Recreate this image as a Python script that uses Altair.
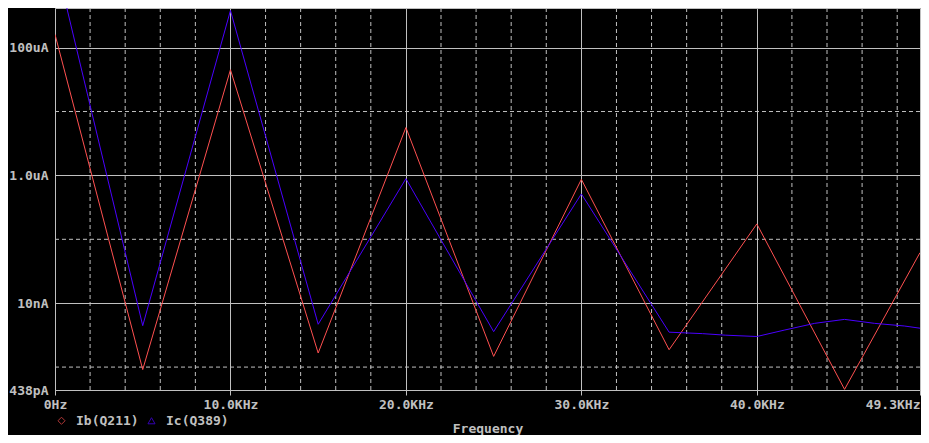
import altair as alt
import pandas as pd

# ---- data ----
ib_freq = [0, 5000, 10000, 15000, 20000, 25000, 30000, 35000, 40000, 45000, 49300]
ib_values = [1.61e-4, 9.14e-10, 4.51e-5, 1.66e-9, 5.61e-6, 1.47e-9, 8.67e-7,
             1.87e-9, 1.74e-7, 4.48e-10, 6.18e-8]

ic_freq = [0, 5000, 10000, 15000, 20000, 25000, 30000, 35000, 36900, 38200,
           40000, 41600, 43300, 45000, 46700, 48400, 49300]
ic_values = [2.48e-3, 4.45e-9, 3.81e-4, 4.68e-9, 8.89e-7, 3.59e-9, 5.13e-7,
             3.52e-9, 3.34e-9, 3.16e-9, 3.01e-9, 3.81e-9, 4.84e-9, 5.58e-9,
             4.84e-9, 4.40e-9, 4.06e-9]

series_names = ["Ib(Q211)", "Ic(Q389)"]
series_colors = ["#ff5050", "#4a00ff"]
series_shapes = ["diamond", "triangle-up"]

x_tick_values = [0, 10000, 20000, 30000, 40000, 49300]
x_tick_labels = ["0Hz", "10.0KHz", "20.0KHz", "30.0KHz", "40.0KHz", "49.3KHz"]
x_minor = [2000, 4000, 6000, 8000, 12000, 14000, 16000, 18000, 22000, 24000,
           26000, 28000, 32000, 34000, 36000, 38000, 42000, 44000, 46000, 48000]

y_tick_values = [1e-4, 1e-6, 1e-8, 4.38e-10]
y_tick_labels = ["100uA", "1.0uA", "10nA", "438pA"]
y_minor = [1e-5, 1e-7, 1e-9]

x_domain = [0, 49300]
y_domain = [4.38e-10, 4.17e-4]

# ---- styling ----
GRID = "#c0c0c0"
TEXT = "#c0c0c0"
FONT = "DejaVu Sans Mono"

df = pd.DataFrame(
    {"freq": ib_freq, "val": ib_values, "series": series_names[0]}
)
df = pd.concat([df, pd.DataFrame(
    {"freq": ic_freq, "val": ic_values, "series": series_names[1]}
)], ignore_index=True)

df_xminor = pd.DataFrame({"f": x_minor})
df_yminor = pd.DataFrame({"v": y_minor})
# legend-only rows (lie outside the plotted domain, clipped away)
df_legend = pd.DataFrame({"freq": [-1000, -1000], "val": [1e-12, 1e-12],
                          "series": series_names})


def label_expr(values, labels, rel):
    parts = []
    for v, l in zip(values, labels):
        tol = abs(v) * rel if v != 0 else 1
        parts.append(f"abs(datum.value - ({v})) < {tol} ? '{l}'")
    return " : ".join(parts) + " : ''"


xscale = alt.Scale(domain=x_domain, nice=False, zero=False)
yscale = alt.Scale(type="log", domain=y_domain, nice=False)

xaxis = alt.Axis(
    values=x_tick_values,
    labelExpr=label_expr(x_tick_values, x_tick_labels, 1e-3),
    grid=True, gridColor=GRID, gridOpacity=1, gridWidth=1,
    ticks=True, tickColor=GRID, tickSize=5, tickWidth=1,
    domain=False,
    labelColor=TEXT, labelFont=FONT, labelFontSize=13, labelFontWeight="bold",
    labelPadding=3, labelOverlap=False,
    labelAlign={"condition": {"test": "datum.value > 49000", "value": "right"},
                "value": "center"},
    title="Frequency", titleColor=TEXT, titleFont=FONT, titleFontSize=13,
    titleFontWeight="bold", titleBaseline="middle", titleY=38,
)

yaxis = alt.Axis(
    values=y_tick_values,
    labelExpr=label_expr(y_tick_values, y_tick_labels, 1e-3),
    grid=True, gridColor=GRID, gridOpacity=1, gridWidth=1,
    ticks=False, tickSize=0, domain=False,
    labelColor=TEXT, labelFont=FONT, labelFontSize=13, labelFontWeight="bold",
    labelPadding=7, labelOverlap=False, labelBaseline="middle",
    title=None,
)

legend = alt.Legend(
    title=None, orient="none", legendX=0, legendY=406, direction="horizontal",
    labelColor=TEXT, labelFont=FONT, labelFontSize=13, labelFontWeight="bold",
    symbolSize=50, symbolStrokeWidth=1, symbolFillColor="transparent",
    labelOffset=8, columnPadding=6, padding=0,
)

X = lambda f: alt.X(f, scale=xscale, axis=xaxis, title="Frequency")
Y = lambda f: alt.Y(f, scale=yscale, axis=yaxis, title=None)

vgrid = alt.Chart(df_xminor).mark_rule(
    color=GRID, strokeDash=[4, 3], strokeWidth=1
).encode(x=X("f:Q"))

hgrid = alt.Chart(df_yminor).mark_rule(
    color=GRID, strokeDash=[4, 3], strokeWidth=1
).encode(y=Y("v:Q"))

color_scale = alt.Scale(domain=series_names, range=series_colors)
shape_scale = alt.Scale(domain=series_names, range=series_shapes)

lines = alt.Chart(df).mark_line(clip=True, strokeWidth=1).encode(
    x=X("freq:Q"),
    y=Y("val:Q"),
    color=alt.Color("series:N", scale=color_scale, legend=legend),
    detail="series:N",
)

legend_layer = alt.Chart(df_legend).mark_point(
    filled=False, strokeWidth=1, clip=True
).encode(
    x=X("freq:Q"),
    y=Y("val:Q"),
    color=alt.Color("series:N", scale=color_scale, legend=legend),
    shape=alt.Shape("series:N", scale=shape_scale, legend=legend),
)

chart = alt.layer(vgrid, hgrid, legend_layer, lines).properties(
    width=865, height=382,
    background="black",
    padding={"left": 47, "top": 0, "right": 1, "bottom": 45},
    autosize=alt.AutoSizeParams(type="none"),
).configure_view(stroke=GRID, strokeWidth=1)

chart.save("out.html", embed_options={"renderer": "svg", "actions": False})
